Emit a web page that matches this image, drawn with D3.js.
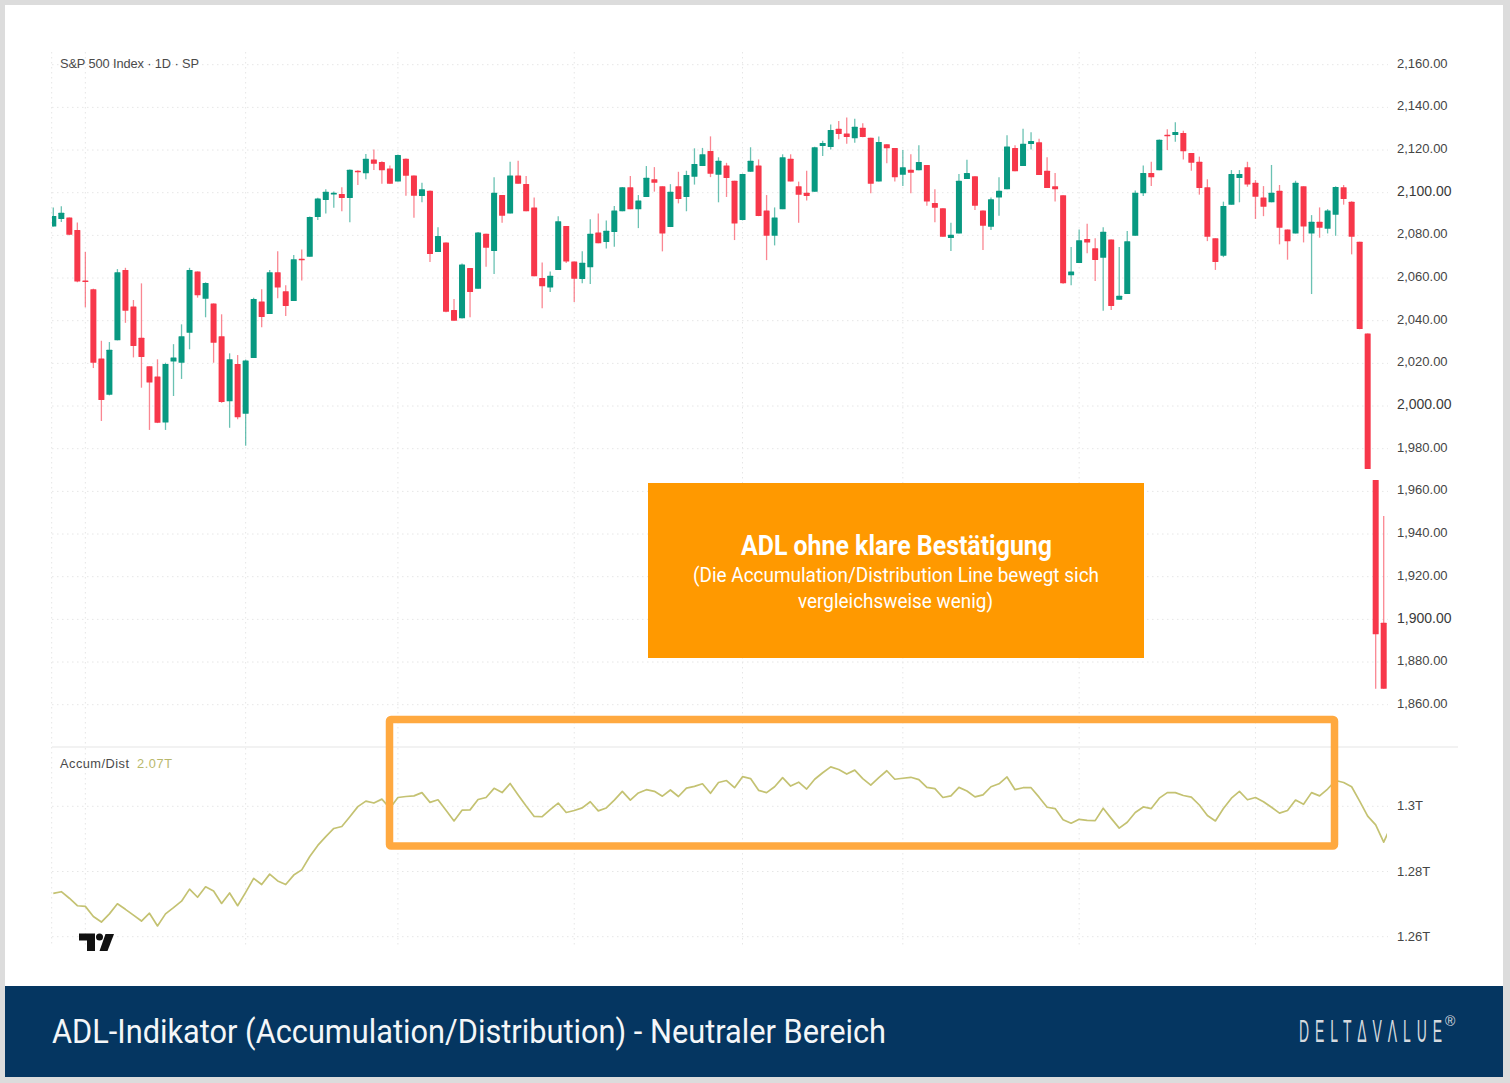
<!DOCTYPE html>
<html lang="de">
<head>
<meta charset="UTF-8">
<title>ADL-Indikator</title>
<script src="https://d3js.org/d3.v7.min.js"></script>
<style>
    body { margin: 0; background: #dcdcdc; }
    svg { display: block; }
    .axis text { font-family: "Liberation Sans", Arial, sans-serif; font-size: 13px; fill: #454545; }
    .axis text.major { font-size: 14px; fill: #3a3a3a; }
    .legend { font-family: "Liberation Sans", Arial, sans-serif; font-size: 12.8px; fill: #4a4a4a; }
</style>
</head>
<body>
<svg id="chart" width="1510" height="1083"></svg>
<script>
const opens = [
    2084.1,2087.7,2088.4,2082.5,2058.9,2054.8,2022.3,2005.3,2030.8,2063.8,
    2046.6,2032,2018.6,2013.9,1992.3,2020.9,2020.3,2034.4,2063.1,2050.3,
    2048.1,2032.7,2002.2,2019.7,1996.4,2022.5,2049,2043.1,2062.7,2053.8,
    2049.2,2069,2070,2088.6,2096.6,2099.2,2099.4,2097.5,2110.3,2109.1,
    2115.6,2114.4,2111.4,2105.3,2115.9,2108.1,2098.4,2100.9,2072.2,2076.6,
    2045,2041.1,2064.7,2055,2080.8,2072.7,2098.9,2090.3,2108.1,2104.1,
    2093.1,2060,2055.6,2063.8,2084.4,2067.8,2059.5,2065,2081.4,2076.9,
    2081.6,2091.3,2102.5,2092.3,2098,2106.3,2103,2083.9,2103,2098,
    2107.5,2112.5,2119.5,2108.4,2112.8,2105.6,2087.2,2109.8,2112.8,2091.7,
    2079.8,2092.3,2115.9,2103,2100,2100.5,2121.9,2121.4,2130,2127.8,
    2125.5,2130.5,2125.8,2105.3,2122.7,2121,2108.4,2110.8,2110.5,2113,
    2095.2,2092.7,2078.8,2080.9,2106.4,2107.7,2091.6,2084,2097.7,2101.6,
    2121,2112.5,2122.8,2123.6,2110.3,2103,2098.8,2061.3,2067,2078.3,
    2074,2069.5,2078.1,2049.8,2052.5,2079.8,2099.7,2109.2,2110.5,2127.2,
    2127,2128,2118.6,2114.5,2102.5,2078.6,2070.5,2094.4,2106.9,2111.9,
    2104.7,2097.8,2095.5,2100.9,2082.8,2080.9,2103,2080.9,2086.4,2083.1,
    2089.7,2102.5,2095.8,2077,2034,1965.3,1898.4
];
const closes = [
    2089.1,2090.6,2080.3,2058.4,2058.1,2020.3,2002.8,2026.4,2062.7,2044.7,
    2028.1,2023,2011,1992.2,2019.7,2022.8,2032.7,2063.8,2051.9,2057.7,
    2029.7,2001.9,2021.9,1994.7,2021.3,2050.2,2041.7,2062.7,2055.6,2046.9,
    2068.8,2068.4,2088.6,2097.3,2100.5,2100,2097.5,2110.8,2109.8,2115.9,
    2113.6,2110.5,2104.2,2117.7,2108,2098.6,2101.6,2071.3,2079.7,2044.2,
    2040,2066.4,2053.4,2081.4,2074.2,2100,2089.2,2108.1,2104.2,2091.3,
    2060.8,2056.1,2061.1,2086.6,2067.8,2059.7,2067.2,2080.8,2076.3,2082.2,
    2091.7,2102.5,2092.3,2096.4,2107,2104.7,2080.9,2100.5,2097,2108.3,
    2113.4,2118,2108.9,2115,2106.9,2085.6,2108.8,2115,2089.1,2079.8,
    2088.4,2116.6,2105.3,2099,2098.4,2121.3,2123.3,2129.4,2127.5,2126.1,
    2130.9,2126.1,2104.2,2123.8,2120.8,2107.3,2111.9,2109.4,2114.4,2095.9,
    2093,2079.4,2080.3,2105.6,2109.2,2093.9,2084.5,2096.9,2100.9,2121.7,
    2110,2123,2124.2,2108.3,2102.2,2101.6,2057.5,2063.1,2077.7,2076.7,
    2068.4,2081.7,2046.9,2051.7,2077.2,2100,2109.2,2107.3,2124.8,2126.7,
    2128.4,2119.4,2114,2102.2,2079.4,2067.5,2093.8,2108.8,2108.8,2103.8,
    2098.1,2093.4,2100,2083.6,2077.3,2104.7,2084.1,2086.4,2083.6,2091.7,
    2102.7,2097,2079.4,2036.1,1970.5,1893,1867.5
];
const highs = [
    2093.1,2093.7,2088.4,2086,2072.3,2055,2030.6,2030,2064.2,2064.8,
    2049.7,2057.5,2018.6,2021.9,2020.3,2029,2038.3,2064.8,2063.1,2058,
    2048.1,2043,2024.7,2023.9,2021.8,2050.8,2054.8,2063.8,2072.5,2056.6,
    2070.8,2073.4,2088.9,2097.6,2101.6,2100.6,2102.5,2110.9,2110.5,2118.1,
    2120.3,2114.8,2112.8,2117.9,2116,2108.1,2104.7,2101,2083.8,2076.6,
    2050.2,2066.8,2064.7,2081.6,2080.8,2107.2,2098.9,2114.5,2115,2107.8,
    2097.8,2067.3,2063.1,2089,2084.4,2067.8,2072.5,2087.5,2090.2,2087,
    2093.8,2102.7,2107.8,2098.9,2112.5,2112,2103,2104,2109.8,2110.3,
    2120.8,2121,2126.4,2116.6,2114,2105.6,2108.9,2121.3,2115.6,2098.9,
    2093.1,2118,2118,2105.2,2110.3,2121.5,2124.4,2132,2133.6,2135.2,
    2134.7,2132.5,2125.8,2126.3,2122.7,2121,2120,2118,2122.2,2113,
    2101.6,2092.7,2085.9,2108.8,2115.5,2107.7,2091.6,2097.8,2107.2,2126.9,
    2122.3,2130,2128.3,2125.3,2116.6,2109.2,2098.8,2074.5,2082.8,2085.5,
    2078.6,2083.8,2078.1,2074.5,2082,2101,2112.7,2114.5,2124.9,2129.7,
    2133,2129,2118.6,2116.9,2106.3,2078.6,2095.8,2110.6,2110.6,2114.5,
    2105.9,2103.1,2113,2103.6,2082.8,2105.6,2103,2089.5,2093.1,2092.3,
    2103,2103.6,2096,2077,2034,1965.3,1948.4
];
const lows = [
    2084.1,2086.3,2080,2058,2046.3,2017.8,1993,2005,2030.8,2039,
    2022.8,2008.6,1988.8,1992,1988.8,2004.7,2012.7,2026.6,2050.8,2041.6,
    2020.3,2001.5,1989.8,1993.8,1981.4,2022.5,2036.9,2043.1,2050.5,2042.2,
    2049.2,2058.8,2070,2087.2,2090.3,2093,2091.3,2086.1,2103.6,2106.3,
    2110.6,2104.2,2104.2,2105.2,2098.6,2088.3,2095.5,2067.5,2072.2,2044,
    2040,2041,2041.6,2055,2065.3,2061.9,2085.9,2090.3,2104.2,2091.3,
    2060.8,2045.8,2053.4,2063.8,2067,2048.8,2057.5,2057.2,2076.3,2073.8,
    2074.7,2091.3,2092.3,2083.4,2098,2100.5,2072.5,2083.9,2095,2091.3,
    2103.8,2112.5,2107.3,2095.5,2098,2077.8,2087,2109.8,2089,2068.4,
    2075.3,2092.3,2105.3,2085.9,2096.4,2100.5,2117.2,2120.3,2125,2123,
    2123.4,2126,2099.7,2105.3,2113.8,2105.2,2103.1,2099.7,2110.5,2093.9,
    2086.1,2079.4,2072.7,2080.9,2106.4,2091.9,2073.1,2082.5,2089.2,2101.6,
    2110,2112.5,2120.2,2108.3,2102.2,2095.9,2057.3,2056.6,2067,2071.6,
    2058.6,2044.7,2045,2049.8,2052.5,2079.8,2098.4,2103.1,2110.5,2120,
    2123.9,2115.6,2110.3,2099.1,2077.3,2063.8,2069.8,2094.4,2095.5,2102.8,
    2087.7,2089,2095.5,2075.8,2068.6,2080.9,2076.7,2052.5,2078.9,2080.9,
    2079.8,2094.4,2071.1,2036,1970.5,1867.5,1867.5
];
// accumulation/distribution in trillions, one more point than candles (cut off at the pane edge)
const adl = [
    1.2733,1.2738,1.2718,1.2695,1.2693,1.2662,1.2645,1.2670,1.2701,1.2684,
    1.2666,1.2648,1.2672,1.2633,1.2670,1.2689,1.2709,1.2746,1.2721,1.2753,
    1.2740,1.2702,1.2734,1.2695,1.2736,1.2779,1.2760,1.2792,1.2771,1.2760,
    1.2789,1.2805,1.2846,1.2880,1.2907,1.2932,1.2938,1.2968,1.2999,1.3016,
    1.3010,1.3022,1.2994,1.3027,1.3030,1.3032,1.3042,1.3012,1.3020,1.2988,
    1.2955,1.2988,1.2989,1.3021,1.3027,1.3055,1.3042,1.3070,1.3035,1.3001,
    1.2969,1.2968,1.2990,1.3010,1.2981,1.2987,1.2995,1.3014,1.2986,1.2995,
    1.3019,1.3046,1.3019,1.3041,1.3051,1.3046,1.3031,1.3050,1.3030,1.3056,
    1.3061,1.3069,1.3040,1.3073,1.3079,1.3057,1.3091,1.3085,1.3049,1.3042,
    1.3060,1.3088,1.3062,1.3074,1.3053,1.3083,1.3103,1.3121,1.3113,1.3099,
    1.3111,1.3085,1.3065,1.3088,1.3109,1.3083,1.3086,1.3089,1.3082,1.3058,
    1.3054,1.3027,1.3032,1.3058,1.3047,1.3029,1.3035,1.3060,1.3069,1.3090,
    1.3051,1.3057,1.3057,1.3028,1.2997,1.2993,1.2959,1.2948,1.2960,1.2957,
    1.2956,1.2994,1.2963,1.2933,1.2951,1.2981,1.2998,1.2993,1.3025,1.3042,
    1.3042,1.3033,1.3028,1.3004,1.2972,1.2955,1.2993,1.3025,1.3046,1.3020,
    1.3027,1.3014,1.2997,1.2979,1.2987,1.3019,1.3006,1.3042,1.3032,1.3053,
    1.3079,1.3073,1.3060,1.3016,1.2970,1.2943,1.2890,1.2944
];
const priceTicks = [2160,2140,2120,2100,2080,2060,2040,2020,2000,1980,1960,1940,1920,1900,1880,1860];
const adlTicks = [1.3,1.28,1.26];
const gridCandles = [4,24,43,65,86,106,128,150];

const UP = "#089981", DOWN = "#f7374a";

const svg = d3.select("#chart");
const candles = opens.map((o, i) => ({ i, o, h: highs[i], l: lows[i], c: closes[i] }));

const x = d3.scaleLinear().domain([0, 166]).range([53.3, 1383.7]);
const yPrice = d3.scaleLinear().domain([1860, 2160]).range([704.7, 64.7]);
const yAdl = d3.scaleLinear().domain([1.26, 1.3]).range([936.7, 806.3]);

// page frame
svg.append("rect").attr("x", 5).attr("y", 5).attr("width", 1498).attr("height", 981).attr("fill", "#fff");
svg.append("rect").attr("x", 5).attr("y", 986).attr("width", 1498).attr("height", 91).attr("fill", "#053661");

const defs = svg.append("defs");
defs.append("clipPath").attr("id", "pane")
    .append("rect").attr("x", 52).attr("y", 748).attr("width", 1335).attr("height", 200);
defs.append("clipPath").attr("id", "pricePane")
    .append("rect").attr("x", 52).attr("y", 52).attr("width", 1336).attr("height", 694);

// grid
const grid = svg.append("g").attr("stroke", "#e6e6e6").attr("stroke-dasharray", "1.5 3.5");
grid.selectAll(".h1").data(priceTicks).join("line").attr("class", "h1")
    .attr("x1", 52).attr("x2", 1388)
    .attr("y1", d => yPrice(d)).attr("y2", d => yPrice(d));
grid.selectAll(".h2").data(adlTicks).join("line").attr("class", "h2")
    .attr("x1", 52).attr("x2", 1388)
    .attr("y1", d => yAdl(d)).attr("y2", d => yAdl(d));
grid.selectAll(".v1").data(gridCandles).join("line").attr("class", "v1")
    .attr("x1", d => x(d)).attr("x2", d => x(d)).attr("y1", 52).attr("y2", 746);
grid.selectAll(".v2").data(gridCandles).join("line").attr("class", "v2")
    .attr("x1", d => x(d)).attr("x2", d => x(d)).attr("y1", 748).attr("y2", 945);
grid.append("line").attr("x1", 51.7).attr("x2", 51.7).attr("y1", 52).attr("y2", 945);

svg.append("line").attr("x1", 52).attr("x2", 1458).attr("y1", 747).attr("y2", 747)
    .attr("stroke", "#eeeeee").attr("stroke-width", 1.5);

// candles
const candleLayer = svg.append("g").attr("clip-path", "url(#pricePane)");
candleLayer.append("g").selectAll("line").data(candles).join("line")
    .attr("x1", d => x(d.i)).attr("x2", d => x(d.i))
    .attr("y1", d => yPrice(d.h)).attr("y2", d => yPrice(d.l))
    .attr("stroke", d => d.c >= d.o ? UP : DOWN)
    .attr("stroke-opacity", 0.6)
    .attr("stroke-width", 1.3);

candleLayer.append("g").selectAll("rect").data(candles).join("rect")
    .attr("x", d => x(d.i) - 3)
    .attr("width", 6)
    .attr("y", d => yPrice(Math.max(d.o, d.c)))
    .attr("height", d => Math.max(1.5, Math.abs(yPrice(d.o) - yPrice(d.c))))
    .attr("rx", 0.5)
    .attr("fill", d => d.c >= d.o ? UP : DOWN);

// accumulation/distribution line
const line = d3.line().x((d, i) => x(i)).y(d => yAdl(d));
svg.append("path").datum(adl)
    .attr("clip-path", "url(#pane)")
    .attr("d", line)
    .attr("fill", "none")
    .attr("stroke", "#c4c272")
    .attr("stroke-width", 1.7)
    .attr("stroke-linejoin", "round");

// axes
const priceAxis = svg.append("g").attr("class", "axis").attr("transform", "translate(1397,0)")
    .call(d3.axisRight(yPrice).tickValues(priceTicks).tickSize(0).tickPadding(0).tickFormat(d3.format(",.2f")));
priceAxis.select(".domain").remove();
priceAxis.selectAll("text").attr("dy", "0.2em").classed("major", d => d % 100 === 0);

const adlAxis = svg.append("g").attr("class", "axis").attr("transform", "translate(1397,0)")
    .call(d3.axisRight(yAdl).tickValues(adlTicks).tickSize(0).tickPadding(0).tickFormat(d => d + "T"));
adlAxis.select(".domain").remove();
adlAxis.selectAll("text").attr("dy", "0.28em");

// legends
svg.append("text").attr("class", "legend").attr("x", 60).attr("y", 68)
    .attr("textLength", 139).text("S&P 500 Index · 1D · SP");
svg.append("text").attr("class", "legend").attr("x", 60).attr("y", 768)
    .attr("textLength", 69).text("Accum/Dist");
svg.append("text").attr("class", "legend").attr("x", 137).attr("y", 768)
    .attr("textLength", 35)
    .style("fill", "#b9b86c").text("2.07T");

// tradingview mark
const logo = svg.append("g").attr("fill", "#111");
logo.append("path").attr("d", "M79 933.5H95V951H87V940.5H79Z");
logo.append("circle").attr("cx", 99.5).attr("cy", 937).attr("r", 3.5);
logo.append("path").attr("d", "M105.5 934H114L107.5 951H99.5Z");

// orange frame over the sideways stretch
svg.append("rect")
    .attr("x", 389.5).attr("y", 719.5).attr("width", 945).attr("height", 126.5)
    .attr("rx", 1.5)
    .attr("fill", "none").attr("stroke", "#ffa940").attr("stroke-width", 7.5);

// callout box
svg.append("rect").attr("x", 648).attr("y", 483).attr("width", 496).attr("height", 175).attr("fill", "#ff9900");
const calloutFont = "Roboto, sans-serif";
svg.append("text").attr("x", 741).attr("y", 555)
    .attr("textLength", 311).attr("lengthAdjust", "spacingAndGlyphs")
    .attr("font-family", calloutFont).attr("font-size", 28).attr("font-weight", 700).attr("fill", "#fff")
    .text("ADL ohne klare Bestätigung");
svg.append("text").attr("x", 693).attr("y", 582)
    .attr("textLength", 406).attr("lengthAdjust", "spacingAndGlyphs")
    .attr("font-family", calloutFont).attr("font-size", 21).attr("fill", "#fff")
    .text("(Die Accumulation/Distribution Line bewegt sich");
svg.append("text").attr("x", 798).attr("y", 608)
    .attr("textLength", 195).attr("lengthAdjust", "spacingAndGlyphs")
    .attr("font-family", calloutFont).attr("font-size", 21).attr("fill", "#fff")
    .text("vergleichsweise wenig)");

// footer
svg.append("text").attr("x", 52).attr("y", 1043)
    .attr("textLength", 834).attr("lengthAdjust", "spacingAndGlyphs")
    .attr("font-family", calloutFont).attr("font-size", 34).attr("fill", "#f4f6f8")
    .text("ADL-Indikator (Accumulation/Distribution) - Neutraler Bereich");

svg.append("text").attr("x", 0).attr("y", 1042)
    .attr("textLength", 318).attr("lengthAdjust", "spacing")
    .attr("font-family", "Liberation Sans, sans-serif").attr("font-size", 31).attr("fill", "#d5dadf")
    .attr("transform", "translate(1299,0) scale(0.45,1)")
    .text("DELTΔVΛLUE");
svg.append("text").attr("x", 1445).attr("y", 1025.5)
    .attr("font-family", "Liberation Sans, sans-serif").attr("font-size", 14).attr("fill", "#d5dadf")
    .text("®");
</script>
</body>
</html>
